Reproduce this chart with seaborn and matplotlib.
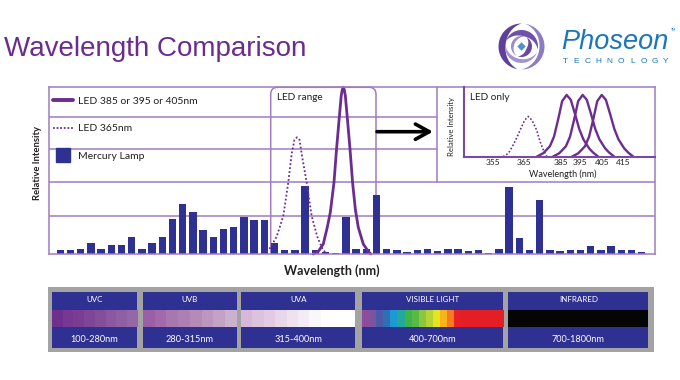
import numpy as np
import matplotlib
matplotlib.use("Agg")
import matplotlib.pyplot as plt
from matplotlib.colors import ListedColormap
from matplotlib.lines import Line2D
from matplotlib.patches import Rectangle, Polygon, PathPatch
from matplotlib.path import Path
import seaborn as sns

# ---- data ------------------------------------------------------------------
# mercury lamp emission lines, left to right (frame top = 100)
mercury_heights = [2.2, 2.2, 2.8, 6.6, 2.8, 5.4, 5.4, 10.4, 2.8, 6.8,
                   10.4, 20.8, 30.1, 25.3, 14.2, 10.4, 15.2, 16.4, 22.4, 20.6,
                   20.6, 6.8, 2.2, 2.2, 40.7, 2.2, 1.4, 0.8, 22.2, 2.8,
                   2.8, 35.1, 2.8, 2.4, 1.4, 2.4, 2.8, 1.6, 2.8, 2.8,
                   1.6, 2.4, 0.8, 2.8, 40.3, 9.8, 2.4, 32.3, 2.4, 1.6,
                   2.4, 2.4, 5.0, 2.4, 5.0, 2.4, 2.4, 1.2]

# LED curves on the main chart, x in mercury-line slots
led_main_x = [24.80, 25.29, 25.78, 26.17, 26.47, 26.83, 27.08, 27.35, 27.54,
              27.64, 27.74, 27.84, 27.94, 28.13, 28.40, 28.65, 28.92, 29.21,
              29.70, 30.19, 30.45]
led_main_y = [0, 1.5, 6, 16, 25, 43, 63, 82, 95, 98.5, 100, 98.5, 95, 82, 63,
              43, 27, 16, 6, 1.5, 0]
led365_main_x = [19.90, 20.50, 21.21, 21.86, 22.35, 22.68, 22.95, 23.20, 23.45,
                 23.66, 24.15, 24.64, 25.19, 25.70, 26.11]
led365_main_y = [0, 3, 10.4, 22.8, 43, 60, 68.5, 70, 68.5, 60, 43, 22.8, 10.4,
                 3, 0]

# "LED only" inset, x in nm
inset_365_x = [351, 354, 356, 358, 360.4, 362.5, 364, 365, 366, 367.5, 369.7,
               371.5, 373.3, 375.2]
inset_365_y = [0, 5, 14, 24, 38, 50, 56, 58, 56, 50, 38, 22, 10, 1]
inset_385_x = [369.7, 373.3, 377.0, 379.3, 381.7, 383.8, 386.3, 388.6, 390.9,
               393.3, 395.6, 398.8, 401.0, 403.9]
inset_395_x = [378.6, 382.2, 385.9, 388.2, 390.6, 392.7, 395.2, 397.5, 399.8,
               402.2, 404.5, 407.7, 409.9, 412.8]
inset_405_x = [389.2, 392.8, 396.5, 398.8, 401.2, 403.3, 405.8, 408.1, 410.4,
               412.8, 415.1, 418.3, 420.5, 423.4]
inset_solid_y = [0, 5, 15, 29, 55, 80, 89, 82, 62, 40, 25, 12, 6, 0]
inset_tick_labels = ["355", "365", "385", "395", "405", "415"]
inset_tick_pos = [345.2, 362.8, 383.2, 393.7, 406.1, 417.7]

legend_labels = ["LED 385 or 395 or 405nm", "LED 365nm", "Mercury Lamp"]

# spectrum strip
band_names = ["UVC", "UVB", "UVA", "VISIBLE LIGHT", "INFRARED"]
band_ranges = ["100-280nm", "280-315nm", "315-400nm", "400-700nm", "700-1800nm"]
band_colors = [
    ["#6e2f8e", "#773893", "#7b3d94", "#7f4597", "#844e9b", "#8a57a0",
     "#8f5fa4", "#9566a8"],
    ["#9c5fa6", "#a26aab", "#a877b0", "#ae7fb4", "#b58ab9", "#bc96bf",
     "#c3a2c6", "#cbb0cf"],
    ["#d8b8d8", "#dcc2dd", "#e2cbe2", "#e8d6e9", "#eee2ef", "#f4ecf4",
     "#faf7fa", "#ffffff", "#ffffff", "#ffffff"],
    ["#8e4d9c", "#7a559f", "#4a5aa8", "#2f6fb6", "#1c9ad6", "#22a99a",
     "#3db549", "#58b947", "#8cc63f", "#b5d334", "#e5e41e", "#f9b41a",
     "#f47b20", "#e91f26", "#e31e25", "#e31e25", "#e31e25", "#e31e25",
     "#e31e25", "#e31e25"],
    ["#050505"],
]

# ---- style -------------------------------------------------------------------
sns.set_style("white")
plt.rcParams["font.family"] = ["Lato", "DejaVu Sans"]

NAVY = "#2e3192"
CURVE = "#6b2d90"
FRAME = "#a27cbf"
TEXT = "#231f20"
GRAY = "#a3a3a3"

W, H = 680, 380
fig = plt.figure(figsize=(6.8, 3.8), dpi=100)


def fig_rect(x0, y0, x1, y1):
    return [x0 / W, 1 - y1 / H, (x1 - x0) / W, (y1 - y0) / H]


def crescent(center, radius, start, span, thick, n=40):
    # tapered arc band, used for the logo swirl
    t = np.linspace(0, 1, n)
    ang = np.radians(start + span * t)
    r_in = radius - thick * np.sin(np.pi * t)
    outer = np.c_[center[0] + radius * np.cos(ang), center[1] + radius * np.sin(ang)]
    inner = np.c_[center[0] + r_in * np.cos(ang), center[1] + r_in * np.sin(ang)]
    return np.vstack([outer, inner[::-1]])


# decoration layer in pixel coordinates
deco = fig.add_axes([0, 0, 1, 1], zorder=0)
deco.axis("off")

# title and logo
deco.text(4, 56, "Wavelength Comparison", fontsize=20, color="#6a2c8f",
          family="Liberation Sans", va="baseline", ha="left")
c = (521.5, 46.5)
for rad, start, thick, col in [(23, 100, 7, "#5e409a"), (23, 280, 5, "#8e7cc2"),
                               (16.5, 200, 6, "#6f52a8"), (16.5, 20, 4, "#a494d0"),
                               (10.5, 300, 5, "#6a4a9c"), (10.5, 120, 3, "#9c8acb")]:
    deco.add_patch(Polygon(crescent(c, rad, start, 170, thick), closed=True,
                           color=col, lw=0))
deco.add_patch(Polygon([(c[0] - 5, c[1]), (c[0], c[1] - 5), (c[0] + 5, c[1]),
                        (c[0], c[1] + 5)], closed=True, facecolor="#4f8fd6",
                       edgecolor="white", lw=0.8))
deco.text(561, 49, "Phoseon", fontsize=19.5, style="italic", color="#1b75bc",
          family="Liberation Sans", va="baseline", ha="left")
deco.text(671, 30, "TM", fontsize=2.5, color="#1b75bc", ha="left", va="center")
for i, ch in enumerate("TECHNOLOGY"):
    deco.text(565 + i * 11.2, 61.5, ch, fontsize=6.0, color="#1b75bc",
              family="Liberation Sans", ha="center", va="center")

# LED range box with rounded top corners
r = 7
x0, x1, yt, yb = 270.7, 376.0, 87.3, 254.0
verts = [(x0, yb), (x0, yt + r), (x0, yt), (x0 + r, yt), (x1 - r, yt),
         (x1, yt), (x1, yt + r), (x1, yb)]
codes = [Path.MOVETO, Path.LINETO, Path.CURVE3, Path.CURVE3, Path.LINETO,
         Path.CURVE3, Path.CURVE3, Path.LINETO]
deco.add_patch(PathPatch(Path(verts, codes), fill=False, edgecolor=FRAME, lw=1.1))
deco.text(277, 97.5, "LED range", fontsize=7.2, color=TEXT, va="center")

# inset frame and arrow
deco.plot([436.7, 436.7], [87.3, 182], color=FRAME, lw=1.1)
deco.annotate("", xy=(433, 131.7), xytext=(377, 131.7),
              arrowprops=dict(arrowstyle="->,head_length=1.0,head_width=0.55",
                              lw=2.6, color="black", mutation_scale=10,
                              shrinkA=0, shrinkB=0))

# spectrum strip
deco.add_patch(Rectangle((48.3, 287.3), 605.7, 64.4, color=GRAY, lw=0))
band_x = [(51.7, 137.3), (142.7, 236.7), (241.3, 355.0), (361.7, 503.3),
          (508.3, 648.3)]
for (bx0, bx1), name, rng, cols in zip(band_x, band_names, band_ranges,
                                       band_colors):
    deco.add_patch(Rectangle((bx0, 291.7), bx1 - bx0, 56.6, color=NAVY, lw=0))
    deco.imshow(np.arange(len(cols))[None, :], cmap=ListedColormap(cols),
                extent=(bx0, bx1, 327.3, 310.7), aspect="auto",
                interpolation="nearest", zorder=2)
    deco.text((bx0 + bx1) / 2, 299.5, name, fontsize=5.8, color="white",
              ha="center", va="center")
    deco.text((bx0 + bx1) / 2, 339.5, rng, fontsize=6.6, color="white",
              ha="center", va="center")
deco.set_xlim(0, W)
deco.set_ylim(H, 0)

# ---- main chart --------------------------------------------------------------
ax = fig.add_axes(fig_rect(49, 87.3, 655, 254), zorder=1)
ax.patch.set_alpha(0)
slots = np.arange(len(mercury_heights))
sns.barplot(x=slots, y=mercury_heights, native_scale=True, width=0.72,
            color=NAVY, saturation=1, linewidth=0, ax=ax)
sns.lineplot(x=led365_main_x, y=led365_main_y, sort=False, estimator=None,
             color=CURVE, lw=1.3, ls=(0, (1, 1.2)), ax=ax)
sns.lineplot(x=led_main_x, y=led_main_y, sort=False, estimator=None,
             color=CURVE, lw=2.0, ax=ax, clip_on=False)
ax.set_xlim(-1.11, 58.3)
ax.set_ylim(0, 100)
ax.set_xticks([])
ax.set_yticks([])
for y in (22.75, 43.1):
    ax.axhline(y, color=FRAME, lw=1.1, zorder=0)
for y in (62.9, 82.0):
    ax.axhline(y, xmax=0.64, color=FRAME, lw=1.1, zorder=0)
for s in ax.spines.values():
    s.set_visible(True)
    s.set_color(FRAME)
    s.set_linewidth(1.1)
ax.set_xlabel("Wavelength (nm)", fontsize=9, color=TEXT, fontweight="bold")
ax.xaxis.set_label_coords(0.467, -0.06)
ax.set_ylabel("Relative Intensity", fontsize=6.8, color=TEXT, fontweight="bold")
ax.yaxis.set_label_coords(-0.012, 0.545)

handles = [Line2D([], [], color=CURVE, lw=2.8),
           Line2D([], [], color=CURVE, lw=1.3, ls=(0, (1, 1))),
           Line2D([], [], marker="s", ls="none", color=NAVY, markersize=10)]
ax.legend(handles, legend_labels, loc="upper left",
          bbox_to_anchor=(0.006, 0.945), frameon=False, fontsize=7.5,
          labelcolor=TEXT, handlelength=2.0, handletextpad=0.45,
          labelspacing=1.75, borderpad=0, borderaxespad=0)

# ---- LED only inset ----------------------------------------------------------
inset = fig.add_axes(fig_rect(463.5, 87.3, 655, 156.7), zorder=2)
inset.patch.set_alpha(0)
sns.lineplot(x=inset_365_x, y=inset_365_y, sort=False, estimator=None,
             color=CURVE, lw=1.2, ls=(0, (1, 1.2)), ax=inset)
for xs in (inset_385_x, inset_395_x, inset_405_x):
    sns.lineplot(x=xs, y=inset_solid_y, sort=False, estimator=None,
                 color=CURVE, lw=1.7, ax=inset)
inset.set_xlim(329, 435.4)
inset.set_ylim(0, 100)
inset.set_xticks(inset_tick_pos, labels=inset_tick_labels)
inset.tick_params(axis="x", length=0, pad=1.5, labelsize=6, labelcolor=TEXT)
inset.set_yticks([])
for side in ("top", "right"):
    inset.spines[side].set_visible(False)
for side in ("left", "bottom"):
    inset.spines[side].set_color("#7a4a9e")
    inset.spines[side].set_linewidth(1.5)
inset.set_xlabel("Wavelength (nm)", fontsize=6.5, color=TEXT)
inset.xaxis.set_label_coords(0.517, -0.19)
inset.set_ylabel("Relative Intensity", fontsize=5.6, color=TEXT)
inset.yaxis.set_label_coords(-0.045, 0.43)
inset.text(470, 97.5, "LED only", fontsize=7.2, color=TEXT, va="center",
           transform=deco.transData)

fig.savefig("out.png", dpi=100)
